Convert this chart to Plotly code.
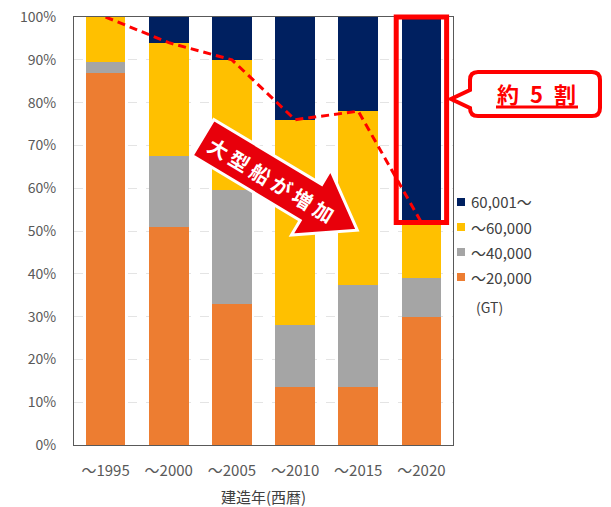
import math
import plotly.graph_objects as go

# Share of ships by gross tonnage class, per build period (%)
years = ["～1995", "～2000", "～2005", "～2010", "～2015", "～2020"]
small = [87, 51, 33, 13.5, 13.5, 30]        # ～20,000 GT
mid = [2.5, 16.5, 26.5, 14.5, 24, 9]        # ～40,000 GT
large = [10.5, 26.5, 30.5, 48, 40.5, 13]    # ～60,000 GT
huge = [0, 6, 10, 24, 22, 48]               # 60,001～ GT
class_names = ["～20,000", "～40,000", "～60,000", "60,001～"]
class_colors = ["#ED7D31", "#A5A5A5", "#FFC000", "#002060"]

FONT = "Noto Sans CJK JP"
W, H = 611, 507
L, T, PW, PH = 74, 17, 379, 428
B = T + PH


def to_paper(x, y):
    """Pixel position on the page -> paper coordinates."""
    return (x - L) / PW, (B - y) / PH


def path_from(points, closed=True):
    parts = []
    for i, (x, y) in enumerate(points):
        px, py = to_paper(x, y)
        parts.append(("M" if i == 0 else "L") + f"{px:.5f},{py:.5f}")
    return " ".join(parts) + (" Z" if closed else "")


fig = go.Figure()
for name, vals, col in zip(class_names, [small, mid, large, huge], class_colors):
    fig.add_trace(go.Bar(x=years, y=vals, name=name, marker=dict(color=col, line=dict(width=0)),
                         showlegend=False))

# Dashed trend along the lower edge of the 60,001～ segment
edge = [s + m + l for s, m, l in zip(small, mid, large)]
fig.add_trace(go.Scatter(x=years, y=edge, mode="lines", showlegend=False,
                         line=dict(color="#FF0000", width=3, dash="8px,5px")))

shapes = []
annotations = []

# Red frame around the newest period's largest class
n = len(years)
cx = (n - 1 + 0.5) / n
half = 25.2 / PW
shapes.append(dict(type="rect", xref="paper", yref="paper",
                   x0=cx - half, x1=cx + half, y0=(100 - huge[-1]) / 100, y1=1.0,
                   line=dict(color="#FF0000", width=5), fillcolor="rgba(0,0,0,0)", layer="above"))

# Big arrow "大型船が増加"
ang = math.radians(31)
ux, uy = math.cos(ang), math.sin(ang)
vx, vy = -uy, ux
tx, ty = 203, 137.5
length, hw, head_len, head_hw = 180, 21, 54, 38


def at(u, v):
    return tx + u * ux + v * vx, ty + u * uy + v * vy


arrow_pts = [at(0, -hw), at(length - head_len, -hw), at(length - head_len, -head_hw),
             at(length, 0), at(length - head_len, head_hw), at(length - head_len, hw), at(0, hw)]
shapes.append(dict(type="path", xref="paper", yref="paper", path=path_from(arrow_pts),
                   fillcolor="#E8000B", line=dict(color="white", width=3), layer="above"))
ax_, ay_ = to_paper(*at(80, 1))
annotations.append(dict(xref="paper", yref="paper", x=ax_, y=ay_,
                        text="<b>大 型 船 が 増 加</b>",
                        showarrow=False, textangle=31, xanchor="center", yanchor="middle",
                        font=dict(family=FONT, size=20, color="white")))

# Callout box "約5割"
x0, x1, y0, y1, r = 470, 600, 72, 116, 8


def pp(x, y):
    px, py = to_paper(x, y)
    return f"{px:.5f},{py:.5f}"


callout = (f"M{pp(x0 + r, y0)} L{pp(x1 - r, y0)} Q{pp(x1, y0)} {pp(x1, y0 + r)} "
           f"L{pp(x1, y1 - r)} Q{pp(x1, y1)} {pp(x1 - r, y1)} L{pp(x0 + r, y1)} "
           f"Q{pp(x0, y1)} {pp(x0, y1 - r)} L{pp(x0, 108)} L{pp(451, 99)} L{pp(x0, 90)} "
           f"L{pp(x0, y0 + r)} Q{pp(x0, y0)} {pp(x0 + r, y0)} Z")
shapes.append(dict(type="path", xref="paper", yref="paper", path=callout,
                   fillcolor="white", line=dict(color="#FF0000", width=4), layer="above"))
lx, ly = to_paper(536, 93)
annotations.append(dict(xref="paper", yref="paper", x=lx, y=ly, text="<b>約\u20025\u2002割</b>",
                        showarrow=False, xanchor="center", yanchor="middle",
                        font=dict(family=FONT, size=22, color="#FF0000")))
ux0, uy0 = to_paper(496, 107)
ux1, _ = to_paper(578, 107)
shapes.append(dict(type="line", xref="paper", yref="paper", x0=ux0, x1=ux1, y0=uy0, y1=uy0,
                   line=dict(color="#FF0000", width=3), layer="above"))

# Legend (largest class on top)
rows = [202, 227, 252, 277]
for name, col, ry in zip(class_names[::-1], class_colors[::-1], rows):
    sx0, sy0 = to_paper(457, ry - 4)
    sx1, sy1 = to_paper(465, ry + 4)
    shapes.append(dict(type="rect", xref="paper", yref="paper", x0=sx0, x1=sx1, y0=sy1, y1=sy0,
                       fillcolor=col, line=dict(width=0)))
    tx_, ty_ = to_paper(469, ry)
    annotations.append(dict(xref="paper", yref="paper", x=tx_, y=ty_, text=name, showarrow=False,
                            xanchor="left", yanchor="middle",
                            font=dict(family=FONT, size=15, color="#404040")))
gx, gy = to_paper(474, 307)
annotations.append(dict(xref="paper", yref="paper", x=gx, y=gy, text="(GT)", showarrow=False,
                        xanchor="left", yanchor="middle",
                        font=dict(family=FONT, size=14, color="#404040")))

# Axis title near the bottom edge of the page
tx_t, ty_t = to_paper(L + PW / 2, 496)
annotations.append(dict(xref="paper", yref="paper", x=tx_t, y=ty_t, text="建造年(西暦)",
                        showarrow=False, xanchor="center", yanchor="middle",
                        font=dict(family=FONT, size=15, color="#404040")))

fig.update_layout(
    width=W, height=H,
    margin=dict(l=L, r=W - L - PW, t=T, b=H - B, autoexpand=False),
    barmode="stack", bargap=0.37,
    plot_bgcolor="white", paper_bgcolor="white",
    font=dict(family=FONT, color="#595959"),
    shapes=shapes, annotations=annotations,
    xaxis=dict(type="category", showline=True, mirror=True, linecolor="#595959", linewidth=1,
               showgrid=False, ticks="", tickfont=dict(size=15, color="#595959"),
               ticklabelstandoff=12, automargin=False),
    yaxis=dict(range=[0, 100], dtick=10, ticksuffix="%", showline=True, mirror=True,
               linecolor="#595959", linewidth=1, gridcolor="#E4E4E4", griddash="dash",
               zeroline=False, ticks="", tickfont=dict(size=14, color="#595959"),
               ticklabelstandoff=14, automargin=False),
)

fig.write_html("out.html")
